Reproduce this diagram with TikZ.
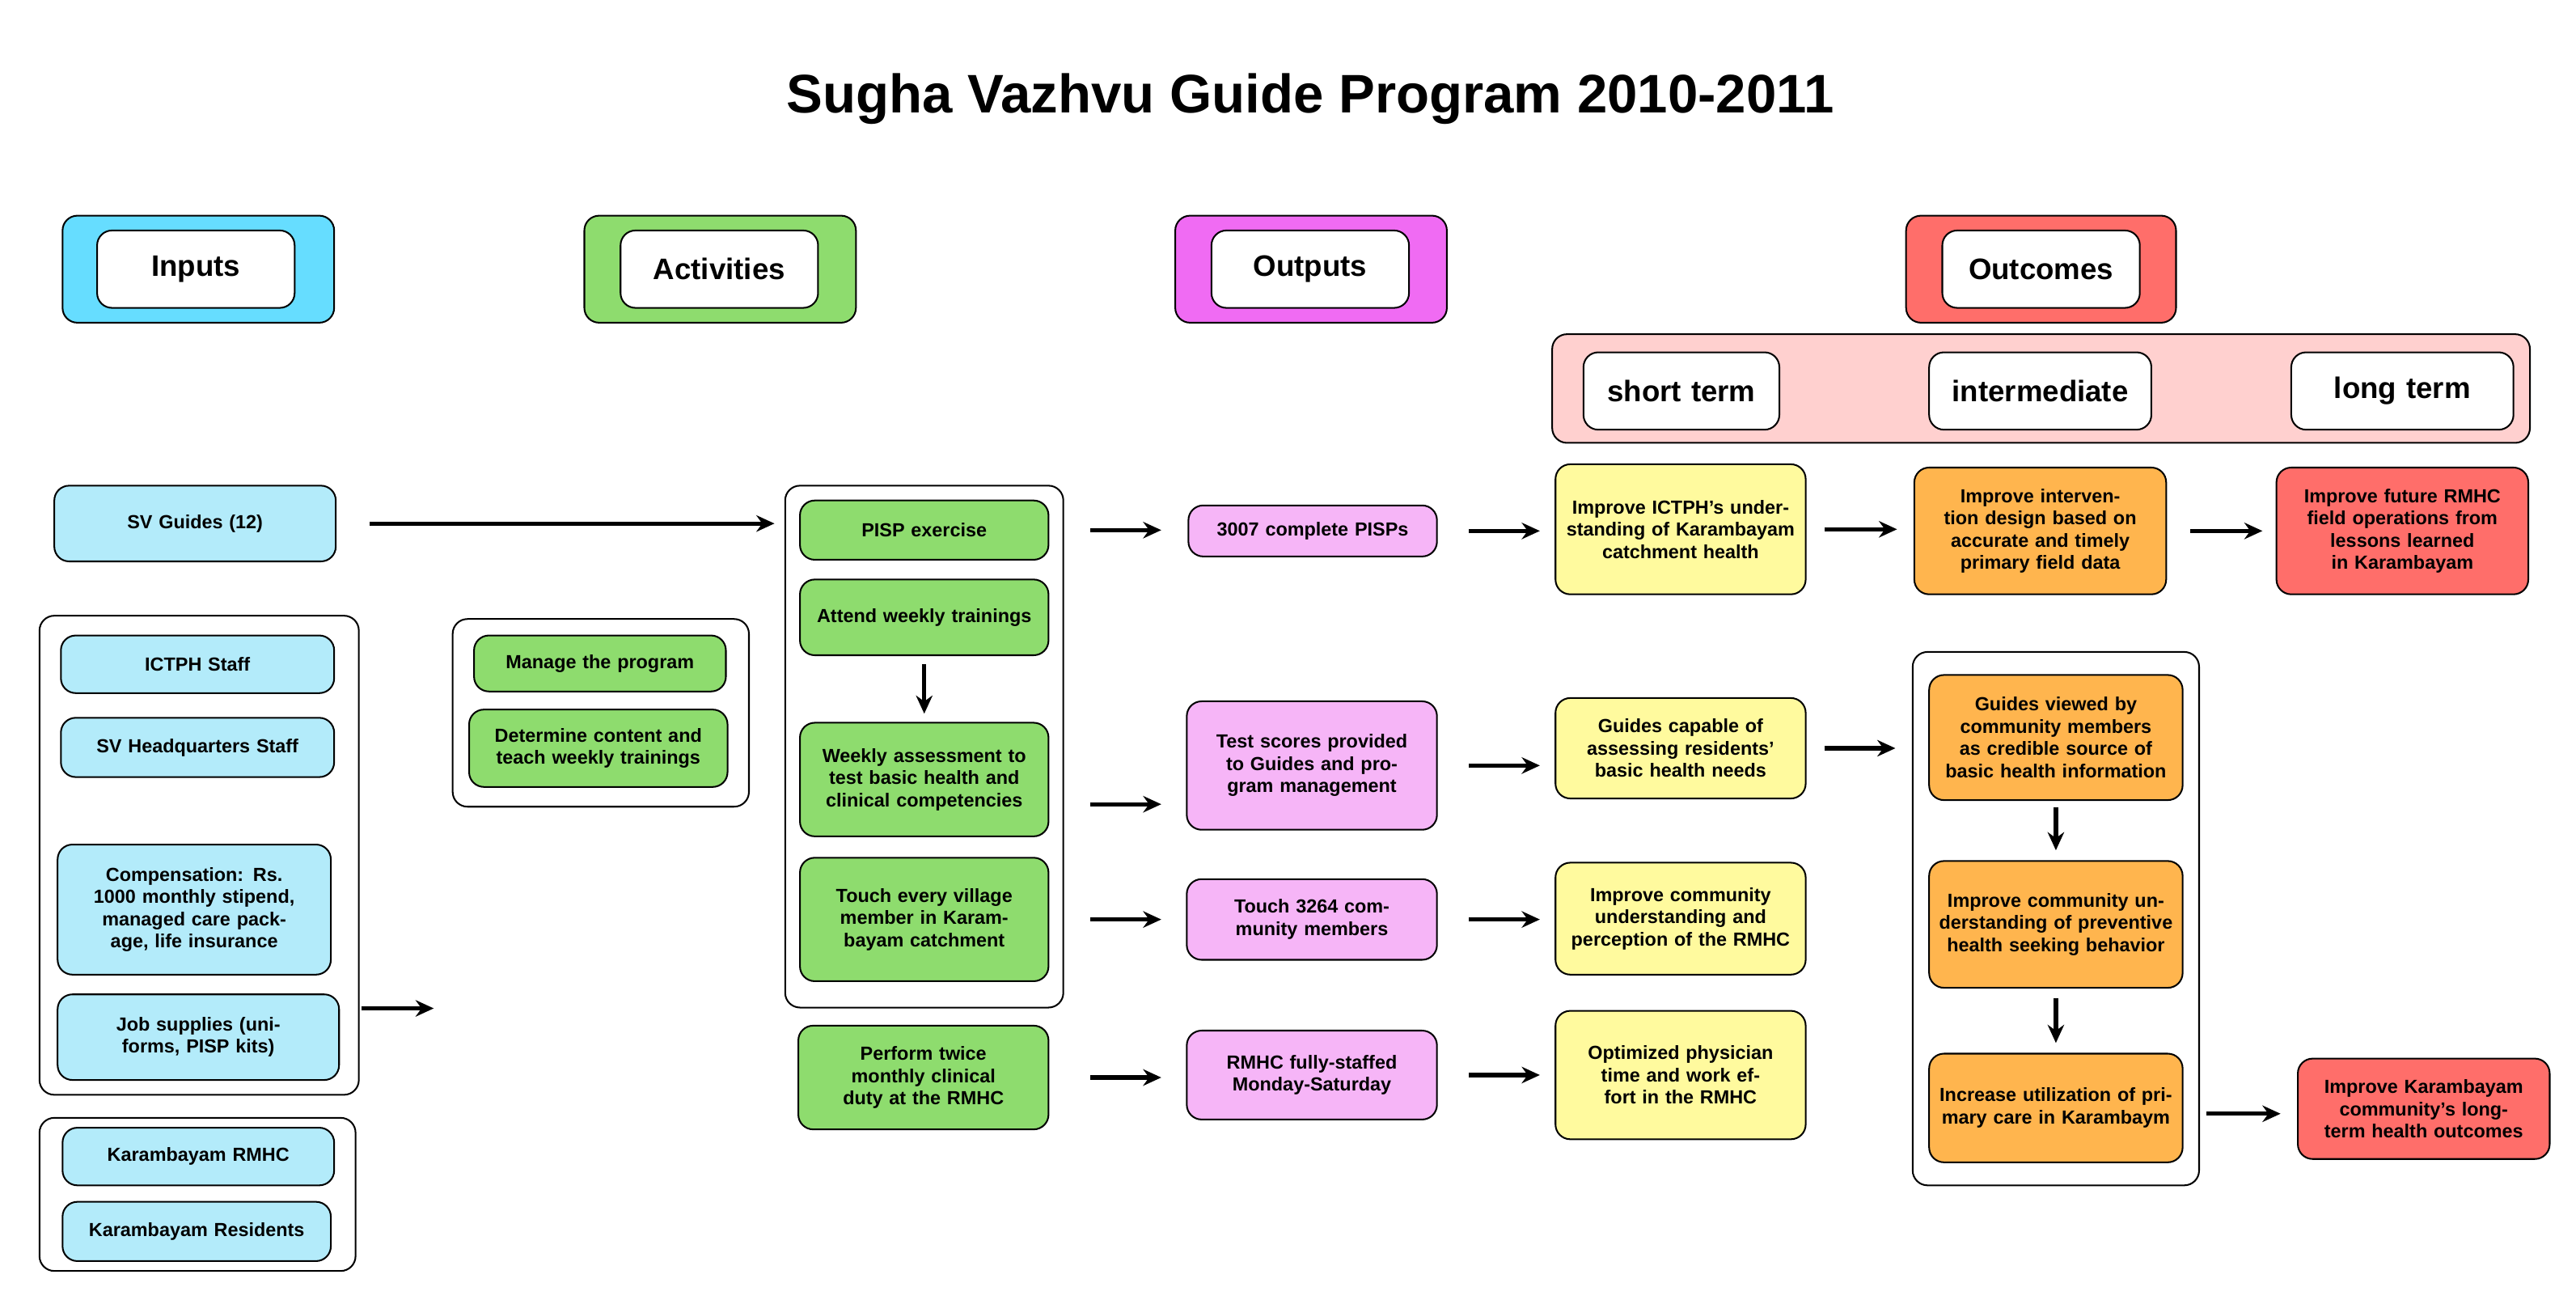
\documentclass[tikz,border=0pt]{standalone}
\usepackage{fontspec}
\setmainfont{Liberation Sans}
\usetikzlibrary{arrows.meta}
\definecolor{cyanH}{HTML}{66DDFF}
\definecolor{lblue}{HTML}{B3EBFA}
\definecolor{grn}{HTML}{8EDC6E}
\definecolor{mag}{HTML}{F06BF3}
\definecolor{lpink}{HTML}{F6B5F7}
\definecolor{redH}{HTML}{FF6E6A}
\definecolor{band}{HTML}{FFD0CF}
\definecolor{yel}{HTML}{FFFA9E}
\definecolor{org}{HTML}{FFB54E}
\newcommand\bx[7]{\node[bx,#2,minimum width={(#5-#3)*1pt},minimum height={(#6-#4)*1pt},text width={(#5-#3-12)*1pt}] (#1) at ({(#3+#5)/2},{(#4+#6)/2}) {#7};}
\begin{document}
\begin{tikzpicture}[x=1pt,y=-1pt,
  bx/.style={draw=black,line width=1pt,rounded corners=9pt,align=center,inner sep=0pt,font=\fontsize{11.5}{13.5}\selectfont\bfseries},
  hd/.style={font=\fontsize{18}{20}\selectfont\bfseries,line width=1pt},
  arr/.style={-{Stealth[length=11pt,width=10pt]},line width=2.6pt}]
\useasboundingbox (0,0) rectangle (1565,792);
\node[font=\fontsize{33}{36}\selectfont\bfseries] (title) at (796,60) {Sugha Vazhvu Guide Program 2010-2011};
% headers
\bx{hi}{fill=cyanH}{38}{131}{203}{196}{}
\bx{hit}{fill=white,hd}{59}{140}{179}{187}{Inputs}
\bx{ha}{fill=grn}{355}{131}{520}{196}{}
\bx{hat}{fill=white,hd}{377}{140}{497}{187}{Activities}
\bx{ho}{fill=mag}{714}{131}{879}{196}{}
\bx{hot}{fill=white,hd}{736}{140}{856}{187}{Outputs}
\bx{hc}{fill=redH}{1158}{131}{1322}{196}{}
\bx{hct}{fill=white,hd}{1180}{140}{1300}{187}{Outcomes}
\bx{bd}{fill=band}{943}{203}{1537}{269}{}
\bx{st}{fill=white,hd}{962}{214}{1081}{261}{short term}
\bx{it}{fill=white,hd}{1172}{214}{1307}{261}{intermediate}
\bx{lt}{fill=white,hd}{1392}{214}{1527}{261}{long term}
% inputs
\bx{svg}{fill=lblue}{33}{295}{204}{341}{SV Guides (12)}
\bx{g1}{fill=white}{24}{374}{218}{665}{}
\bx{ict}{fill=lblue}{37}{386}{203}{421}{ICTPH Staff}
\bx{hq}{fill=lblue}{37}{436}{203}{472}{SV Headquarters Staff}
\bx{comp}{fill=lblue}{35}{513}{201}{592}{Compensation: Rs. 1000 monthly stipend, managed care package, life insurance}
\bx{job}{fill=lblue}{35}{604}{206}{656}{Job supplies (uniforms, PISP kits)}
\bx{g2}{fill=white}{24}{679}{216}{772}{}
\bx{rmhc}{fill=lblue}{38}{685}{203}{720}{Karambayam RMHC}
\bx{res}{fill=lblue}{38}{730}{201}{766}{Karambayam Residents}
% activities
\bx{g3}{fill=white}{275}{376}{455}{490}{}
\bx{man}{fill=grn}{288}{386}{441}{420}{Manage the program}
\bx{det}{fill=grn}{285}{431}{442}{478}{Determine content and teach weekly trainings}
\bx{g4}{fill=white}{477}{295}{646}{612}{}
\bx{pisp}{fill=grn}{486}{304}{637}{340}{PISP exercise}
\bx{att}{fill=grn}{486}{352}{637}{398}{Attend weekly trainings}
\bx{wk}{fill=grn}{486}{439}{637}{508}{Weekly assessment to test basic health and clinical competencies}
\bx{tch}{fill=grn}{486}{521}{637}{596}{Touch every village member in Karambayam catchment}
\bx{prf}{fill=grn}{485}{623}{637}{686}{Perform twice monthly clinical duty at the RMHC}
% outputs
\bx{o1}{fill=lpink}{722}{307}{873}{338}{3007 complete PISPs}
\bx{o2}{fill=lpink}{721}{426}{873}{504}{Test scores provided to Guides and program management}
\bx{o3}{fill=lpink}{721}{534}{873}{583}{Touch 3264 community members}
\bx{o4}{fill=lpink}{721}{626}{873}{680}{RMHC fully-staffed Monday-Saturday}
% short
\bx{s1}{fill=yel}{945}{282}{1097}{361}{Improve ICTPH's understanding of Karambayam catchment health}
\bx{s2}{fill=yel}{945}{424}{1097}{485}{Guides capable of assessing residents' basic health needs}
\bx{s3}{fill=yel}{945}{524}{1097}{592}{Improve community understanding and perception of the RMHC}
\bx{s4}{fill=yel}{945}{614}{1097}{692}{Optimized physician time and work effort in the RMHC}
% intermediate
\bx{i1}{fill=org}{1163}{284}{1316}{361}{Improve intervention design based on accurate and timely primary field data}
\bx{g5}{fill=white}{1162}{396}{1336}{720}{}
\bx{i2}{fill=org}{1172}{410}{1326}{486}{Guides viewed by community members as credible source of basic health information}
\bx{i3}{fill=org}{1172}{523}{1326}{600}{Improve community understanding of preventive health seeking behavior}
\bx{i4}{fill=org}{1172}{640}{1326}{706}{Increase utilization of primary care in Karambaym}
% long
\bx{l1}{fill=redH}{1383}{284}{1536}{361}{Improve future RMHC field operations from lessons learned in Karambayam}
\bx{l2}{fill=redH}{1396}{643}{1549}{704}{Improve Karambayam community's long-term health outcomes}
% arrows
\draw[arr] ([xshift=20pt]svg.east) -- ([xshift=-6pt]svg.east -| g4.west);
\draw[arr] ([xshift=1pt,yshift=-93pt]g1.east) -- ([xshift=-11pt,yshift=-93pt]g1.east -| g3.west);
\draw[arr] ([yshift=-5pt]att.south) -- ([yshift=5pt]wk.north);
\draw[arr] ([xshift=25pt]pisp.east) -- ([xshift=-16pt]pisp.east -| o1.west);
\draw[arr] ([xshift=25pt,yshift=-15pt]wk.east) -- ([xshift=-15pt,yshift=-15pt]wk.east -| o2.west);
\draw[arr] ([xshift=25pt]tch.east) -- ([xshift=-15pt]tch.east -| o3.west);
\draw[arr] ([xshift=25pt]prf.east) -- ([xshift=-15pt]prf.east -| o4.west);
\draw[arr] ([xshift=19pt]o1.east) -- ([xshift=-9pt]o1.east -| s1.west);
\draw[arr] ([xshift=19pt]o2.east) -- ([xshift=-9pt]o2.east -| s2.west);
\draw[arr] ([xshift=19pt]o3.east) -- ([xshift=-9pt]o3.east -| s3.west);
\draw[arr] ([xshift=19pt]o4.east) -- ([xshift=-9pt]o4.east -| s4.west);
\draw[arr] ([xshift=11pt]s1.east) -- ([xshift=-10pt]s1.east -| i1.west);
\draw[arr] ([xshift=11pt]s2.east) -- ([xshift=-10pt]s2.east -| g5.west);
\draw[arr] ([xshift=14pt]i1.east) -- ([xshift=-8pt]i1.east -| l1.west);
\draw[arr] ([yshift=-4pt]i2.south) -- ([yshift=6pt]i3.north);
\draw[arr] ([yshift=-6pt]i3.south) -- ([yshift=6pt]i4.north);
\draw[arr] ([xshift=4pt,yshift=-3pt]g5.east |- l2.west) -- ([xshift=-10pt,yshift=-3pt]l2.west);
\end{tikzpicture}
\end{document}
